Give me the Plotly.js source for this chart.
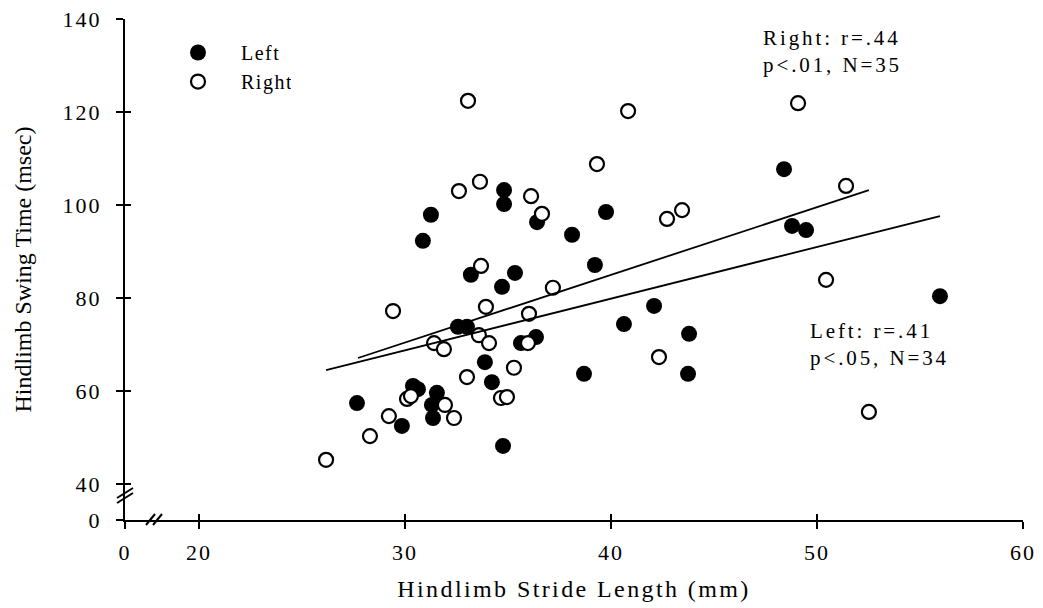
<!DOCTYPE html>
<html>
<head>
<meta charset="utf-8">
<script src="https://cdn.plot.ly/plotly-3.0.1.min.js"></script>
<style>
  html, body { margin: 0; padding: 0; background: #fff; }
  #chart { width: 1043px; height: 608px; }
  #chart .xtick text, #chart .ytick text { letter-spacing: 2px; }
  #chart .g-xtitle text { letter-spacing: 2.4px; }
  #chart .legendtext { letter-spacing: 1.5px; }
  #chart .annotation-text { letter-spacing: 2.9px; }
</style>
</head>
<body>
<div id="chart"></div>
<script>
// ---- Data ----
const leftX = [27.67, 29.85, 30.39, 30.63, 31.55, 31.31, 31.36, 33.88, 34.22, 34.76,
               30.87, 33.20, 34.71, 35.34, 32.57, 33.01, 31.26, 34.81, 34.81, 36.41,
               39.76, 38.11, 39.22, 35.63, 36.36, 42.09, 40.63, 43.79, 38.69, 43.74,
               48.40, 48.79, 49.47, 55.97];
const leftY = [57.4, 52.5, 61.1, 60.4, 59.6, 57.0, 54.2, 66.2, 61.9, 48.2,
               92.3, 85.0, 82.4, 85.4, 73.8, 73.8, 97.9, 103.2, 100.2, 96.3,
               98.5, 93.6, 87.1, 70.3, 71.6, 78.3, 74.4, 72.3, 63.7, 63.7,
               107.7, 95.5, 94.6, 80.4];

const rightX = [26.17, 28.30, 29.22, 30.10, 31.94, 32.38, 33.01, 34.66, 34.95, 29.42,
                33.69, 33.93, 33.59, 34.08, 31.41, 31.89, 33.06, 32.62, 33.64, 40.83,
                39.32, 36.12, 36.65, 42.72, 43.45, 37.18, 36.02, 35.97, 35.29, 42.33,
                49.08, 51.41, 50.44, 52.52, 30.29];
const rightY = [45.2, 50.3, 54.6, 58.3, 57.0, 54.2, 63.0, 58.5, 58.7, 77.2,
                86.9, 78.1, 72.0, 70.3, 70.3, 69.0, 122.4, 103.0, 105.0, 120.2,
                108.8, 101.9, 98.1, 97.0, 98.9, 82.2, 76.6, 70.3, 65.0, 67.3,
                121.9, 104.1, 83.9, 55.5, 58.9];

// regression lines (end points)
const leftFitX = [26.17, 55.97];
const leftFitY = [64.5, 97.6];
const rightFitX = [27.72, 52.52];
const rightFitY = [67.1, 103.2];

// axis ticks (broken axes: "0" then a break)
const xTickVals = [20, 30, 40, 50, 60];
const xTickLabels = ['0', '20', '30', '40', '50', '60'];
const yTickVals = [40, 60, 80, 100, 120, 140];
const yTickLabels = ['0', '40', '60', '80', '100', '120', '140'];

const xZero = 16.41;   // axis position standing for 0 before the break
const yZero = 32.26;

const statRightLines = ['Right: r=.44', 'p<.01, N=35'];
const statLeftLines = ['Left: r=.41', 'p<.05, N=34'];

// ---- Plot ----
const FONT = 'Liberation Serif, Times New Roman, serif';
const xtv = [xZero].concat(xTickVals);
const ytv = [yZero].concat(yTickVals);

const traces = [
  { x: leftX, y: leftY, mode: 'markers', type: 'scatter', name: 'Left',
    marker: { symbol: 'circle', size: 16, color: '#000', line: { width: 0 } } },
  { x: rightX, y: rightY, mode: 'markers', type: 'scatter', name: 'Right',
    marker: { symbol: 'circle', size: 14, color: '#fff', line: { color: '#000', width: 2.2 } } },
  { x: leftFitX, y: leftFitY, mode: 'lines', type: 'scatter', showlegend: false,
    line: { color: '#000', width: 1.8 } },
  { x: rightFitX, y: rightFitY, mode: 'lines', type: 'scatter', showlegend: false,
    line: { color: '#000', width: 1.8 } },
  { x: [], y: [], xaxis: 'x2', yaxis: 'y2', type: 'scatter', mode: 'markers', showlegend: false }
];

const axBase = {
  showgrid: false, zeroline: false, showline: true, linecolor: '#000', linewidth: 2,
  ticks: 'outside', ticklen: 7, tickwidth: 2, tickcolor: '#000',
  tickmode: 'array', automargin: false,
  tickfont: { family: FONT, size: 22, color: '#000' }
};

const pxX = px => (px - 125) / 898;
const pxY = py => (520 - py) / 501;
function slash(x0, y0, x1, y1) {
  return { type: 'line', xref: 'paper', yref: 'paper',
    x0: pxX(x0), y0: pxY(y0), x1: pxX(x1), y1: pxY(y1),
    line: { color: '#000', width: 2 } };
}
function statBlock(lines, xpx, ypx) {
  return { text: lines.join('<br>'), xref: 'paper', yref: 'paper', x: pxX(xpx), y: pxY(ypx),
    xanchor: 'left', yanchor: 'middle', align: 'left', showarrow: false,
    font: { family: FONT, size: 21, color: '#000' } };
}

const layout = {
  width: 1043, height: 608,
  margin: { l: 125, r: 20, t: 19, b: 88 },
  paper_bgcolor: '#fff', plot_bgcolor: '#fff',
  font: { family: FONT, color: '#000' },
  showlegend: true,
  legend: { x: pxX(155), y: 0.972, xanchor: 'left', yanchor: 'top',
    bgcolor: 'rgba(0,0,0,0)', font: { family: FONT, size: 20, color: '#000' },
    itemwidth: 76, tracegroupgap: 0 },
  xaxis: Object.assign({}, axBase, {
    range: [xZero, 60], tickvals: xtv, ticktext: xTickLabels,
    ticklabelstandoff: 5,
    title: { text: 'Hindlimb Stride Length (mm)', font: { family: FONT, size: 24, color: '#000' }, standoff: 16 }
  }),
  yaxis: Object.assign({}, axBase, {
    range: [yZero, 140], tickvals: ytv, ticktext: yTickLabels,
    ticklabelstandoff: 10,
    title: { text: 'Hindlimb Swing Time (msec)', font: { family: FONT, size: 24, color: '#000' }, standoff: 30 }
  }),
  xaxis2: { overlaying: 'x', anchor: 'y', range: [xZero, 60], tickmode: 'array', tickvals: xtv,
    ticks: 'inside', ticklen: 6, tickwidth: 2, tickcolor: '#000', showticklabels: false,
    showline: false, showgrid: false, zeroline: false },
  yaxis2: { overlaying: 'y', anchor: 'x', range: [yZero, 140], tickmode: 'array', tickvals: ytv,
    ticks: 'inside', ticklen: 6, tickwidth: 2, tickcolor: '#000', showticklabels: false,
    showline: false, showgrid: false, zeroline: false },
  annotations: [
    statBlock(statRightLines, 761, 52),
    statBlock(statLeftLines, 808, 344)
  ],
  shapes: [
    slash(146, 525, 155, 514), slash(153, 525, 162, 514),
    slash(117, 498, 133, 488), slash(117, 503, 133, 493)
  ]
};

Plotly.newPlot('chart', traces, layout, { displayModeBar: false, staticPlot: true });
</script>
</body>
</html>
